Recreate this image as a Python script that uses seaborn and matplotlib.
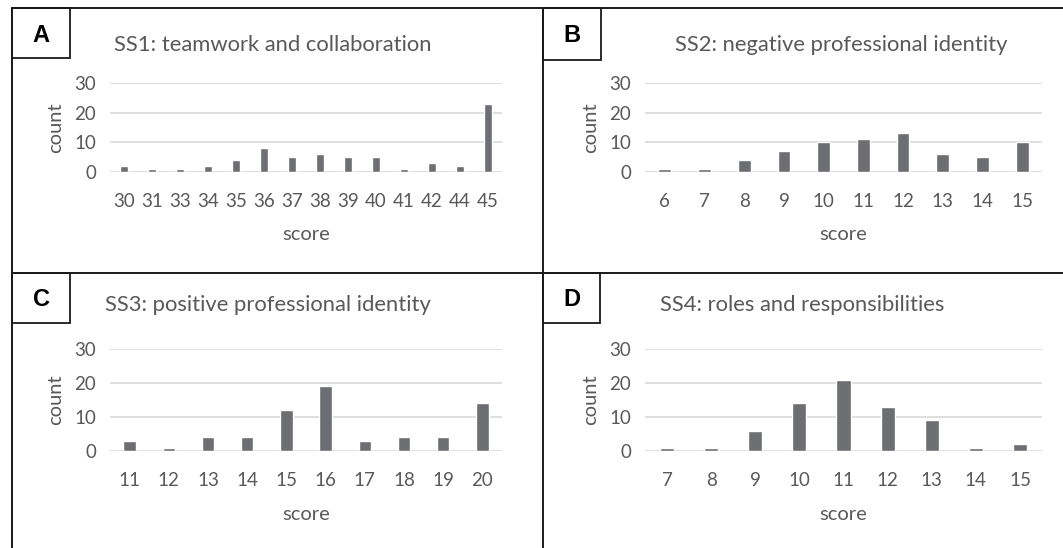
import matplotlib
matplotlib.use("Agg")
import matplotlib.pyplot as plt
import pandas as pd
import seaborn as sns
from matplotlib.lines import Line2D
from matplotlib.patches import Rectangle

# data
ss1_scores = ["30", "31", "33", "34", "35", "36", "37", "38", "39", "40", "41", "42", "44", "45"]
ss1_counts = [2, 1, 1, 2, 4, 8, 5, 6, 5, 5, 1, 3, 2, 23]

ss2_scores = ["6", "7", "8", "9", "10", "11", "12", "13", "14", "15"]
ss2_counts = [1, 1, 4, 7, 10, 11, 13, 6, 5, 10]

ss3_scores = ["11", "12", "13", "14", "15", "16", "17", "18", "19", "20"]
ss3_counts = [3, 1, 4, 4, 12, 19, 3, 4, 4, 14]

ss4_scores = ["7", "8", "9", "10", "11", "12", "13", "14", "15"]
ss4_counts = [1, 1, 6, 14, 21, 13, 9, 1, 2]

titles = ["SS1: teamwork and collaboration", "SS2: negative professional identity",
          "SS3: positive professional identity", "SS4: roles and responsibilities"]
letters = ["A", "B", "C", "D"]

sns.set_style("white")
plt.rcParams['font.family'] = ['Lato', 'DejaVu Sans']

W, H = 1063, 548
fig = plt.figure(figsize=(W / 100, H / 100), dpi=100)


def px(x0, y0, w, h):
    # pixel box (top-left origin) -> figure fraction rect
    return [x0 / W, 1 - (y0 + h) / H, w / W, h / H]


text_col = "#595959"
bar_col = "#6d6e71"
grid_col = "#d9d9d9"

# panel layout in pixels: axes box, title centre, letter box
panels = [
    dict(scores=ss1_scores, counts=ss1_counts, ax=(110, 83, 392, 89), title=(273, 45), box=(12, 8, 58, 50)),
    dict(scores=ss2_scores, counts=ss2_counts, ax=(645, 83, 397, 89), title=(841, 45), box=(543, 8, 58, 52)),
    dict(scores=ss3_scores, counts=ss3_counts, ax=(110, 349, 392, 102), title=(268, 305), box=(12, 273, 58, 50)),
    dict(scores=ss4_scores, counts=ss4_counts, ax=(645, 349, 397, 102), title=(802, 305), box=(543, 273, 57, 50)),
]

for i, p in enumerate(panels):
    ax = fig.add_axes(px(*p["ax"]))
    df = pd.DataFrame({"score": p["scores"], "count": p["counts"]})
    sns.barplot(data=df, x="score", y="count", order=p["scores"], color=bar_col,
                width=0.32, saturation=1, ax=ax, zorder=3)
    ax.set_ylim(0, 30)
    ax.set_yticks([0, 10, 20, 30])
    ax.set_xlim(-0.5, len(p["scores"]) - 0.5)
    ax.yaxis.grid(True, color=grid_col, linewidth=1.2, zorder=0)
    for s in ax.spines.values():
        s.set_visible(False)
    ax.tick_params(axis="both", length=0, labelsize=13.5, labelcolor=text_col)
    ax.tick_params(axis="y", pad=10)
    ax.tick_params(axis="x", pad=15)
    ax.set_xlabel("score", fontsize=14.5, color=text_col, labelpad=12)
    ax.set_ylabel("count", fontsize=14.5, color=text_col, labelpad=7)

    tx, ty = p["title"]
    fig.text(tx / W, 1 - ty / H, titles[i], ha="center", va="center", fontsize=15.8, color=text_col)

    bx, by, bw, bh = p["box"]
    fig.add_artist(Rectangle((bx / W, 1 - (by + bh) / H), bw / W, bh / H, transform=fig.transFigure,
                             fill=False, edgecolor="#1a1a1a", linewidth=1.3))
    fig.text((bx + bw / 2) / W, 1 - (by + 27) / H, letters[i], ha="center", va="center",
             fontsize=17, fontweight="bold", color="black", family=["Liberation Sans", "DejaVu Sans"])

# panel frame lines
frame = [((12, 8), (1063, 8)), ((12, 8), (12, 548)), ((543, 8), (543, 548)), ((12, 273), (1063, 273))]
for (x0, y0), (x1, y1) in frame:
    fig.add_artist(Line2D([x0 / W, x1 / W], [1 - y0 / H, 1 - y1 / H], transform=fig.transFigure,
                          color="#1a1a1a", linewidth=1.4))

fig.savefig("out.png", dpi=100, facecolor="white")
